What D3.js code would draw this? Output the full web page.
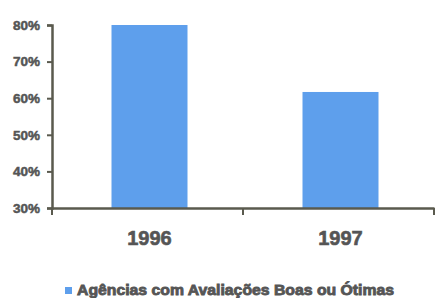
<!DOCTYPE html>
<html><head><meta charset="utf-8">
<script src="https://cdn.jsdelivr.net/npm/d3@7"></script>
<style>body{margin:0;background:#fff}svg{display:block}</style>
</head><body>
<svg id="c" width="435" height="298"></svg>
<script>
const categories = ["1996", "1997"];
const values = [80, 61.7];
const yTicks = [30, 40, 50, 60, 70, 80];
const seriesName = "Agências com Avaliações Boas ou Ótimas";

(function () {
const svg = d3.select("#c");
const mLeft = 52, mRight = 434, mTop = 25, mBottom = 208;
const x = d3.scaleBand().domain(categories).range([mLeft, mRight]);
const y = d3.scaleLinear().domain([30, 80]).range([mBottom, mTop]);
const grey = "#555";
const axisCol = "#5a5a4e";
const ff = "Liberation Sans, Arial, sans-serif";

const bw = 76;
svg.selectAll("rect.bar").data(categories).join("rect")
  .attr("class", "bar")
  .attr("x", (d) => x(d) + x.bandwidth() / 2 - bw / 2 + 2)
  .attr("y", (d, i) => y(values[i]))
  .attr("width", bw)
  .attr("height", (d, i) => y(30) - y(values[i]))
  .attr("fill", "#5e9fec");

// y axis
const ya = svg.append("g").attr("transform", `translate(${mLeft},0)`)
  .call(d3.axisLeft(y).tickValues(yTicks).tickFormat(d => d + "%").tickSize(5));
ya.select(".domain").attr("stroke", axisCol).attr("stroke-width", 2.5);
ya.selectAll(".tick line").attr("stroke", axisCol).attr("stroke-width", 2);
ya.selectAll(".tick text").attr("fill", grey).attr("font-family", ff)
  .attr("font-weight", "bold").attr("font-size", 13.5).attr("x", -12)
  .attr("stroke", grey).attr("stroke-width", 0.5);

// x axis
const xa = svg.append("g").attr("transform", `translate(0,${mBottom})`)
  .call(d3.axisBottom(x).tickSize(0).tickFormat(""));
xa.select(".domain").attr("stroke", axisCol).attr("stroke-width", 2.5);
xa.selectAll(".tick").remove();
const bounds = [mLeft, mLeft + x.step(), mRight];
xa.selectAll("line.sep").data(bounds).join("line").attr("class", "sep")
  .attr("x1", d => d).attr("x2", d => d).attr("y1", 0).attr("y2", 7)
  .attr("stroke", axisCol).attr("stroke-width", 2);

svg.selectAll("text.cat").data(categories).join("text").attr("class", "cat")
  .attr("x", d => x(d) + x.bandwidth() / 2 + 2)
  .attr("y", 245)
  .attr("text-anchor", "middle")
  .attr("fill", grey).attr("font-family", ff)
  .attr("font-weight", "bold").attr("font-size", 20)
  .attr("stroke", grey).attr("stroke-width", 0.6)
  .text(d => d);

// legend
const lg = svg.append("g");
lg.append("rect").attr("x", 65).attr("y", 287).attr("width", 7).attr("height", 7).attr("fill", "#5e9fec");
lg.append("text").attr("x", 77).attr("y", 294.5)
  .attr("fill", grey).attr("font-family", ff)
  .attr("font-weight", "bold").attr("font-size", 14)
  .attr("stroke", grey).attr("stroke-width", 0.8)
  .attr("textLength", 317).attr("lengthAdjust", "spacingAndGlyphs")
  .text(seriesName);
})();
</script>
</body></html>
